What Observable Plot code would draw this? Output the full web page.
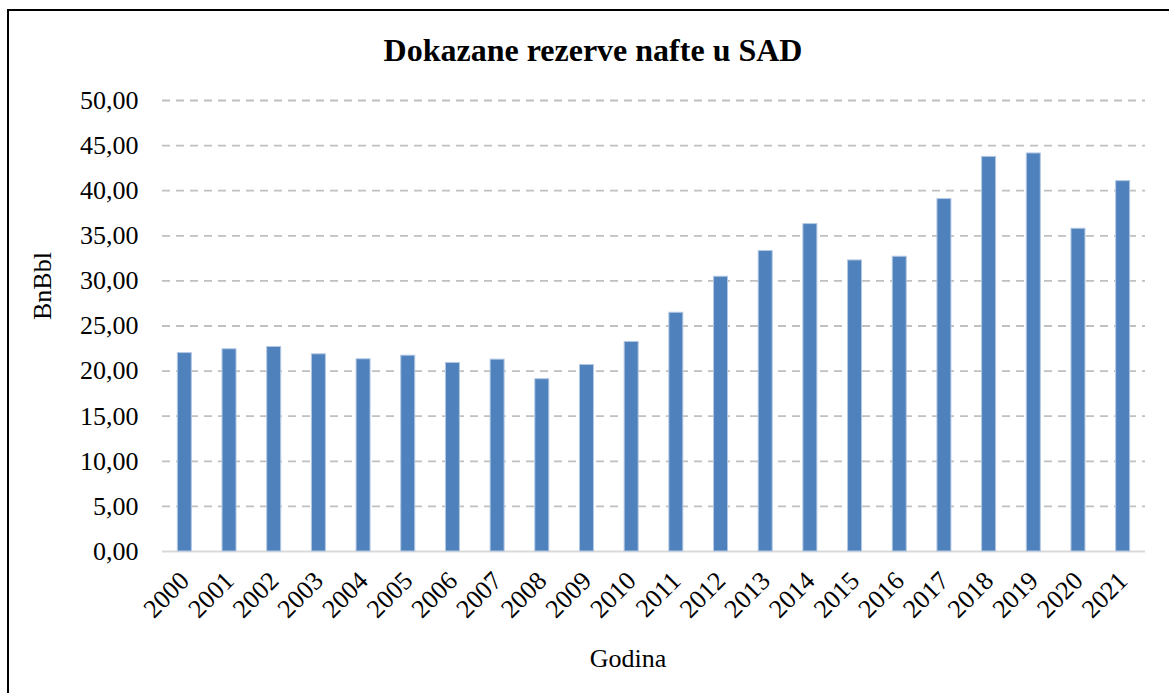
<!DOCTYPE html>
<html>
<head>
<meta charset="utf-8">
<script src="https://cdn.jsdelivr.net/npm/d3@7"></script>
<script src="https://cdn.jsdelivr.net/npm/@observablehq/plot@0.6"></script>
<style>
  html, body { margin: 0; padding: 0; background: #fff; overflow: hidden; }
  #wrap { position: relative; width: 1169px; height: 693px; }
  #border { position: absolute; left: 7px; top: 9px; width: 2000px; height: 2000px;
            border-left: 2px solid #000; border-top: 2px solid #000; pointer-events: none; }
</style>
</head>
<body>
<div id="wrap"><div id="border"></div></div>
<script>
const years = ["2000","2001","2002","2003","2004","2005","2006","2007","2008","2009","2010",
               "2011","2012","2013","2014","2015","2016","2017","2018","2019","2020","2021"];
const reserves = [22.00, 22.42, 22.67, 21.86, 21.31, 21.71, 20.90, 21.27, 19.10, 20.68, 23.23,
                  26.47, 30.46, 33.31, 36.30, 32.27, 32.68, 39.07, 43.75, 44.13, 35.78, 41.06];
const yTicks = [0, 5, 10, 15, 20, 25, 30, 35, 40, 45, 50];
const titleText = "Dokazane rezerve nafte u SAD";
const yTitle = "BnBbl";
const xTitle = "Godina";

const data = years.map((y, i) => ({year: y, value: reserves[i]}));
const fmt = d => d.toFixed(2).replace(".", ",");
const serif = "'Liberation Serif', 'Times New Roman', serif";

const chart = Plot.plot({
  width: 1169,
  height: 693,
  marginLeft: 162,
  marginRight: 24,
  marginTop: 100,
  marginBottom: 142,
  style: {fontFamily: serif, color: "#000", background: "transparent", overflow: "visible"},
  x: {type: "band", domain: years, paddingInner: 0.687, paddingOuter: 0.3435, round: false, axis: null},
  y: {domain: [0, 50], axis: null},
  marks: [
    Plot.gridY(yTicks.filter(d => d > 0), {stroke: "#c0c0c0", strokeOpacity: 1, strokeWidth: 1.8, strokeDasharray: "8,6"}),
    Plot.ruleY([0], {stroke: "#d9d9d9", strokeWidth: 2}),
    Plot.barY(data, {x: "year", y: "value", fill: "#4f81bd", stroke: "#b3c8e3", strokeWidth: 1}),
    Plot.axisY(yTicks, {tickSize: 0, tickPadding: 24, tickFormat: fmt, fontSize: 26, label: null}),
    Plot.axisX(years, {tickSize: 0, tickPadding: 25, tickRotate: -45, fontSize: 26, label: null}),
    Plot.text([titleText], {frameAnchor: "top", text: d => d, dx: -61, dy: -40, lineAnchor: "bottom", fontSize: 32, fontWeight: "bold"}),
    Plot.text([xTitle], {frameAnchor: "bottom", text: d => d, dx: -26, dy: 115, lineAnchor: "bottom", fontSize: 26}),
    Plot.text([yTitle], {frameAnchor: "left", text: d => d, dx: -120, dy: -6, rotate: -90, lineAnchor: "middle", fontSize: 26})
  ]
});
document.getElementById("wrap").prepend(chart);
</script>
</body>
</html>
